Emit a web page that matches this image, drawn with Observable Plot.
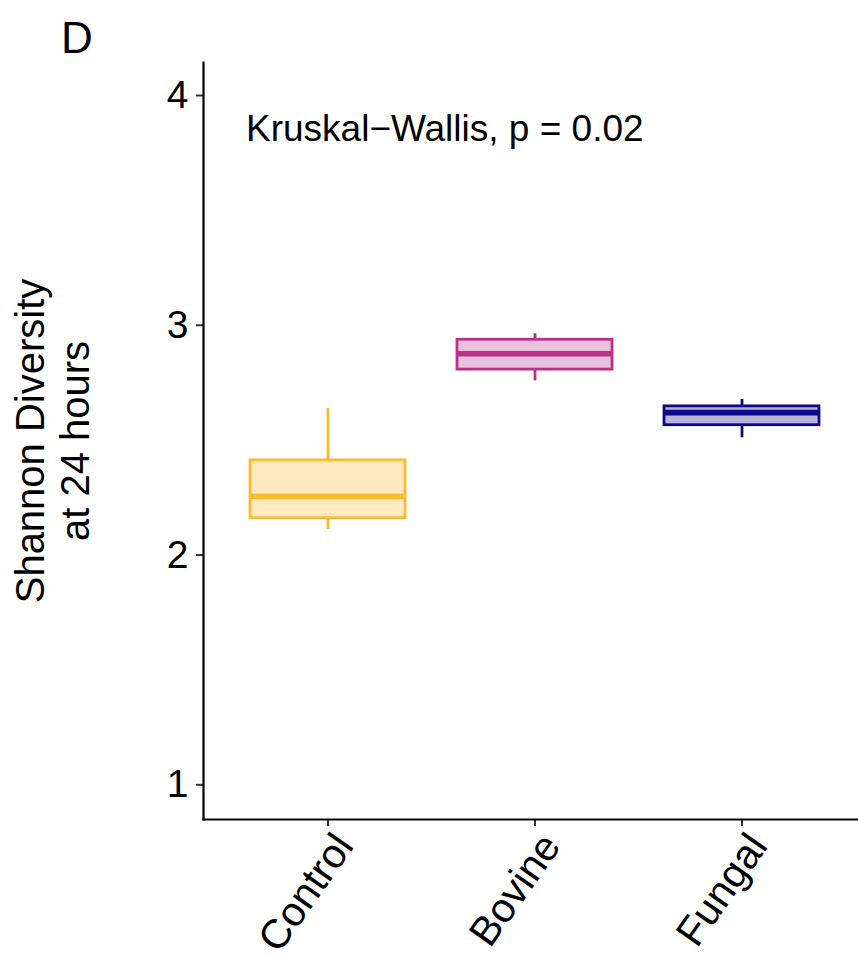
<!DOCTYPE html>
<html>
<head>
<meta charset="utf-8">
<script src="https://cdn.jsdelivr.net/npm/d3@7"></script>
<script src="https://cdn.jsdelivr.net/npm/@observablehq/plot@0.6"></script>
<style>
  html, body { margin: 0; padding: 0; background: #fff; }
  svg { display: block; }
</style>
</head>
<body>
<div id="chart"></div>
<script>
// ---- Data ----
const categories = ["Control", "Bovine", "Fungal"];
const lowerWhisker = [2.111, 2.758, 2.510];
const q1 = [2.160, 2.807, 2.565];
const median = [2.256, 2.876, 2.620];
const q3 = [2.412, 2.937, 2.647];
const upperWhisker = [2.638, 2.963, 2.677];
const colors = ["#FCBB2E", "#B8328A", "#0D0887"];
const yTicks = [1, 2, 3, 4];
const statLabel = "Kruskal\u2212Wallis, p = 0.02";
const panelLabel = "D";
const yTitle = "Shannon Diversity\nat 24 hours";

const data = categories.map((c, i) => ({
  cat: c, lo: lowerWhisker[i], q1: q1[i], med: median[i], q3: q3[i], hi: upperWhisker[i], color: colors[i]
}));

const font = "'Liberation Sans', Arial, Helvetica, sans-serif";

const chart = Plot.plot({
  width: 858,
  height: 956,
  marginLeft: 203,
  marginRight: 0,
  marginTop: 62,
  marginBottom: 137,
  style: { fontFamily: font, background: "#fff", color: "#000", overflow: "visible" },
  x: { type: "band", domain: categories, range: [203, 865.5], paddingInner: 0.25, paddingOuter: 0.225, axis: null },
  y: { domain: [0.849, 4.1436], range: [819, 62], axis: null },
  color: { type: "identity" },
  marks: [
    // whiskers
    Plot.ruleX(data, { x: "cat", y1: "q3", y2: "hi", stroke: "color", strokeWidth: 2.8 }),
    Plot.ruleX(data, { x: "cat", y1: "lo", y2: "q1", stroke: "color", strokeWidth: 2.8 }),
    // boxes
    Plot.barY(data, { x: "cat", y1: "q1", y2: "q3", fill: "color", fillOpacity: 0.3, stroke: "color", strokeWidth: 2.8, inset: 0 }),
    // medians
    Plot.tickY(data, { x: "cat", y: "med", stroke: "color", strokeWidth: 5.6 }),
    // axes
    Plot.axisY(yTicks, { tickSize: 7, tickPadding: 8, fontSize: 39, label: null, tickFormat: d => String(d), stroke: "#333", strokeWidth: 2 }),
    Plot.axisX({ tickSize: 7, tickFormat: () => "", label: null, stroke: "#333", strokeWidth: 2 }),
    Plot.text(categories, { x: d => d, frameAnchor: "bottom", rotate: -55, textAnchor: "end", lineAnchor: "top", dx: 3, dy: 10, fontSize: 41, fill: "#000" }),
    Plot.frame({ anchor: "left", stroke: "#000", strokeWidth: 2.2 }),
    Plot.frame({ anchor: "bottom", stroke: "#000", strokeWidth: 2.2 }),
    // annotations
    Plot.text([statLabel], { frameAnchor: "top-left", dx: 42.5, dy: 52, lineAnchor: "top", textAnchor: "start", fontSize: 37, fill: "#000" }),
    Plot.text([panelLabel], { frameAnchor: "top-left", dx: -142.5, dy: -41, lineAnchor: "top", textAnchor: "start", fontSize: 44, fill: "#000" }),
    Plot.text([yTitle], { frameAnchor: "left", dx: -151.3, rotate: -90, textAnchor: "middle", lineAnchor: "middle", lineHeight: 1.125, fontSize: 40, fill: "#000" })
  ]
});

document.getElementById("chart").appendChild(chart);
</script>
</body>
</html>
